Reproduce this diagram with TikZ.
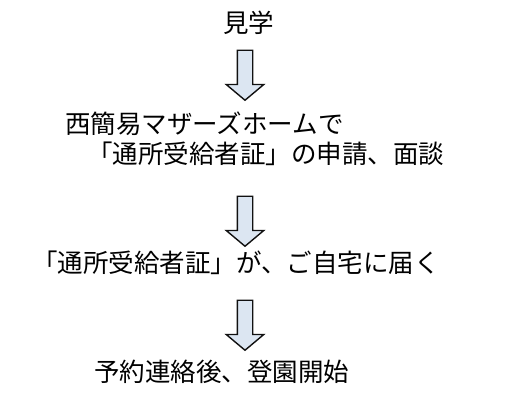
\documentclass[tikz,border=0pt]{standalone}
\usepackage{fontspec}
\setmainfont{Noto Sans CJK JP}
\usetikzlibrary{shapes.arrows}
\definecolor{flowfill}{HTML}{DCE6F2}
\definecolor{flowline}{HTML}{111111}

\begin{document}
\begin{tikzpicture}[x=1pt, y=-1pt, every node/.style={font=\fontsize{25.5}{30}\selectfont, inner sep=0pt},
    downarrow/.style={single arrow, draw=flowline, fill=flowfill, line width=1.4pt, shape border rotate=270, inner sep=7pt, minimum height=50pt, single arrow head extend=11pt, single arrow tip angle=100}]
            \useasboundingbox (0,0) rectangle (510,413);

            % Steps
            \node (visit) at (248.5,22.5) {見学};
            \node[anchor=west] (apply1) at (65,124) {西簡易マザーズホームで};
            \node[anchor=west] (apply2) at (87,153.5) {「通所受給者証」の申請、面談};
            \node[anchor=west] (cert) at (32,262.5) {「通所受給者証」が、ご自宅に届く};
            \node[anchor=west] (start) at (94,372) {予約連絡後、登園開始};

            % Block arrows between the steps
            \node[downarrow] (arr1) at (245,72) {};
            \node[downarrow] (arr2) at (245,218) {};
            \node[downarrow] (arr3) at (245,322) {};
        \end{tikzpicture}
\end{document}
